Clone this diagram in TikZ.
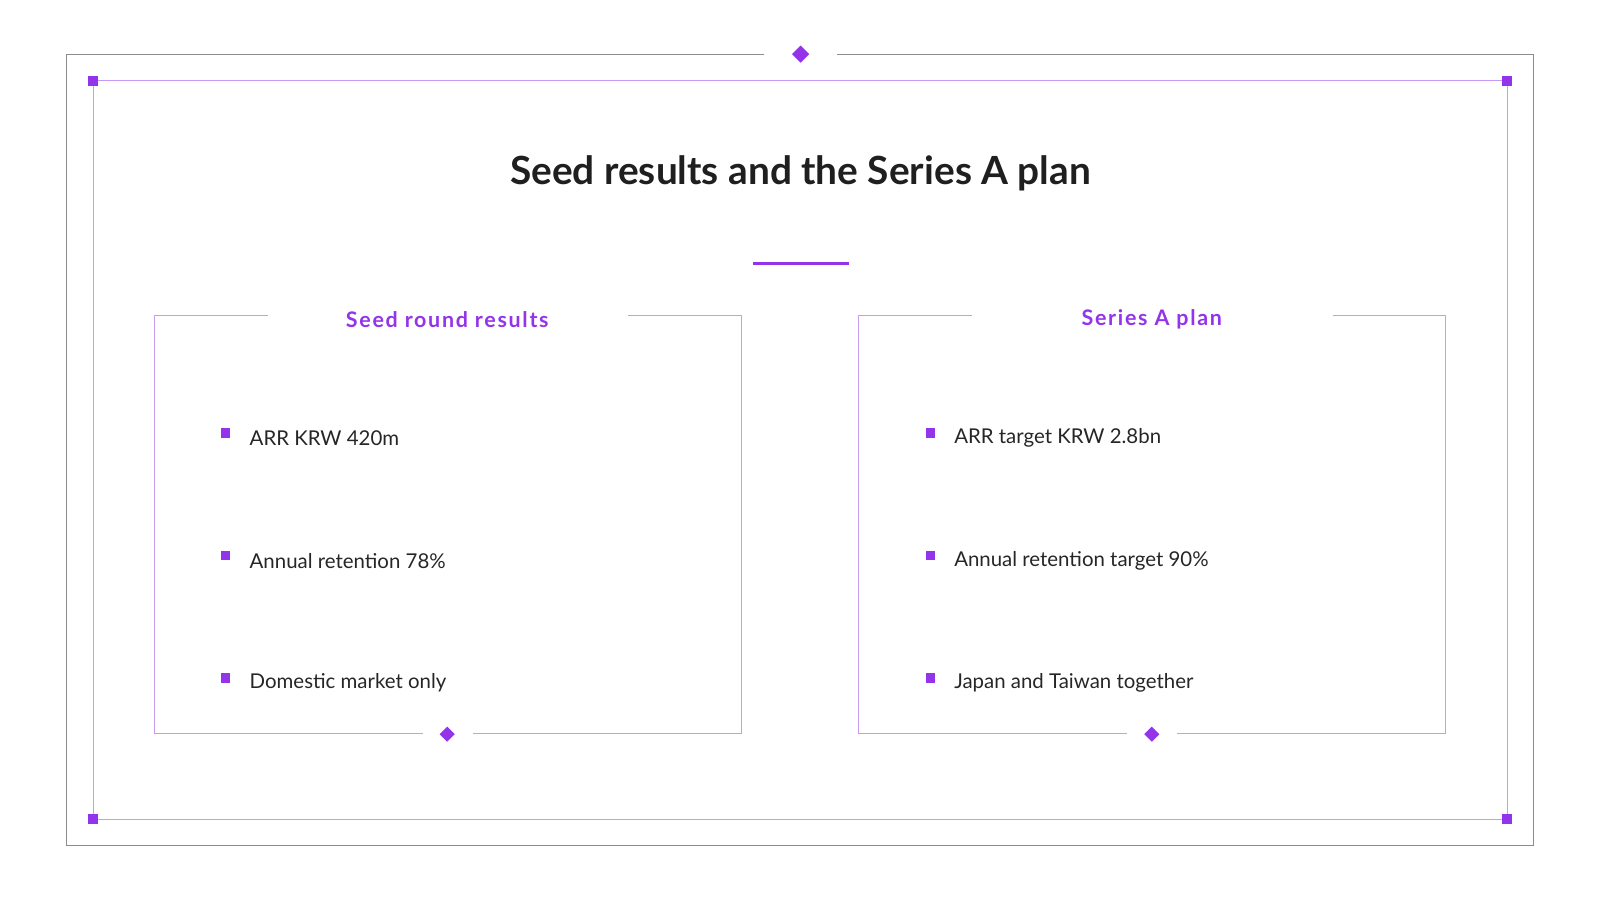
\documentclass[tikz,border=0pt]{standalone}
\usepackage{fontspec}
\setmainfont{Lato}
\usepackage{xcolor}
\definecolor{violet-main}{HTML}{9333EA}
\definecolor{violet-soft}{HTML}{C99AF5}
\usetikzlibrary{positioning,shapes.geometric}

\begin{document}
\begin{tikzpicture}[
	x=1pt,y=-1pt,
	dia/.style={fill=violet-main,diamond,inner sep=0pt,minimum size=#1},
	dia/.default=15pt,
	sq/.style={fill=violet-main,inner sep=0pt,minimum size=9pt},
	head/.style={text=violet-main,font=\fontsize{21}{24}\selectfont\bfseries\addfontfeature{LetterSpace=8}},
	item/.style={anchor=west,text=black!85,font=\fontsize{20}{24}\selectfont}
	]
	\useasboundingbox (0,0) rectangle (1565,881);
	
	% outer frame with gap at the top
	\coordinate (O1) at (748,53);
	\coordinate (O2) at (820,53);
	\draw[black!45,line width=1.2pt] (O1) -- (65,53) -- (65,828) -- (1502,828) -- (1502,53) -- (O2);
	\node[dia=17pt] (topdia) at (784,53) {};
	
	% inner frame and corner marks
	\draw[violet-soft,line width=0.8pt] (91,79) rectangle (1476,802);
	\foreach \cx/\cy in {91/79,1476/79,91/802,1476/802}
		\node[sq,minimum size=10pt] at (\cx,\cy) {};
	
	\node[font=\fontsize{38}{44}\selectfont\bfseries,text=black!88] (title) at (784,170) {Seed results and the Series A plan};
	\draw[violet-main,line width=2.5pt] (737,258) -- (831,258);
	
	% panels
	\foreach \px/\cx/\gl/\gr/\name in {151/438/262/615/Seed round results,841/1128/952/1305/Series A plan}{
		\draw[violet-soft,line width=1.2pt] (\gl,309) -- (\px,309) -- (\px,718) -- (\cx-24,718);
		\draw[violet-soft,line width=1.2pt] (\gr,309) -- (\px+575,309) -- (\px+575,718) -- (\cx+25,718);
		\node[head] at (\cx,313) {\name};
		\node[dia=15pt] at (\cx,719) {};
	}
	
	% items
	\foreach \lt/\rt [count=\i] in {ARR KRW 420m/ARR target KRW 2.8bn,
		Annual retention 78\%/Annual retention target 90\%,
		Domestic market only/Japan and Taiwan together}{
		\node[sq] (ls\i) at (221,304+120*\i) {};
		\node[item] (lt\i) at (241,309+120*\i) {\lt};
		\node[sq] (rs\i) at (911,304+120*\i) {};
		\node[item] (rt\i) at (931,309+120*\i) {\rt};
	}
\end{tikzpicture}
\end{document}
